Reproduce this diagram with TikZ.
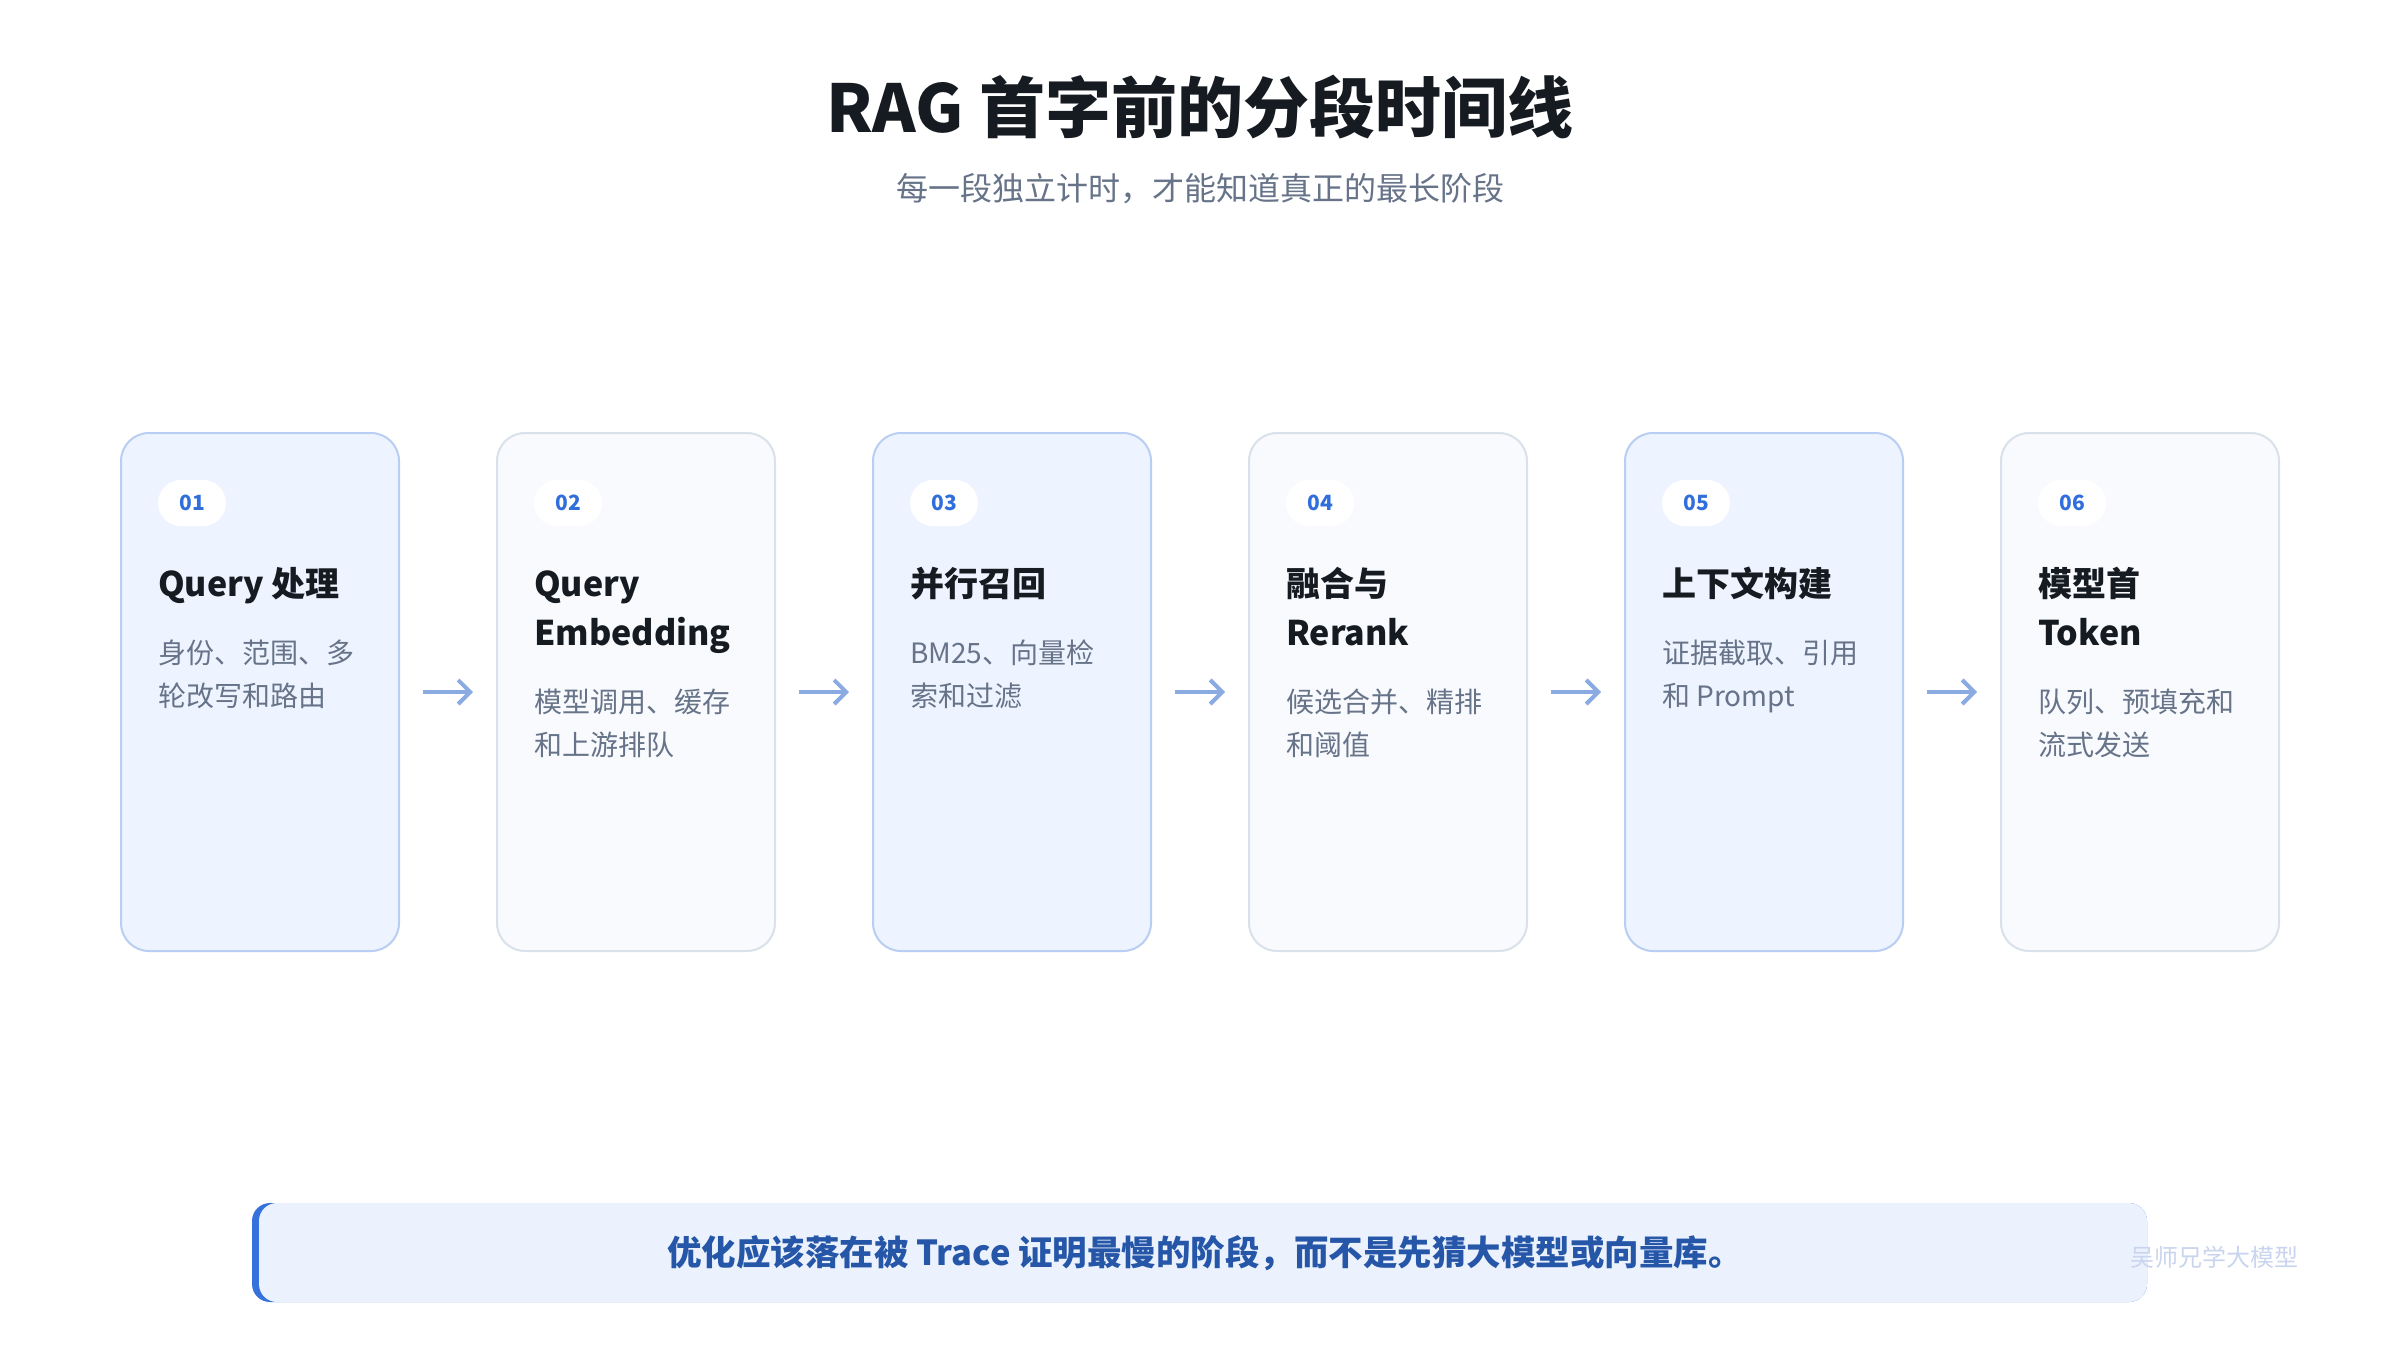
\documentclass[tikz,border=0pt]{standalone}
\usepackage{fontspec}
\setmainfont{Noto Sans CJK SC}
\usetikzlibrary{arrows.meta,calc}
\pgfdeclarelayer{bg}
\pgfsetlayers{bg,main}
\definecolor{ink}{HTML}{161B22}
\definecolor{muted}{HTML}{667388}
\definecolor{cardAfill}{HTML}{EEF4FF}
\definecolor{cardAline}{HTML}{B8CFF3}
\definecolor{cardBfill}{HTML}{F8FAFD}
\definecolor{cardBline}{HTML}{DAE1EA}
\definecolor{badgeblue}{HTML}{2F6EDB}
\definecolor{arrowblue}{HTML}{8AABE1}
\definecolor{barfill}{HTML}{EBF2FE}
\definecolor{accentblue}{HTML}{3572DC}
\definecolor{msgblue}{HTML}{2556A8}
\definecolor{wmark}{HTML}{C9D5EE}
\tikzset{
  card/.style={draw, line width=2pt, rounded corners=28pt, minimum width=278pt, minimum height=518pt, inner sep=0pt},
  cardA/.style={card, fill=cardAfill, draw=cardAline},
  cardB/.style={card, fill=cardBfill, draw=cardBline},
  badge/.style={fill=white, rounded corners=23pt, minimum width=68pt, minimum height=46pt, inner sep=0pt, text=badgeblue, font=\fontsize{21}{23}\selectfont\bfseries},
  ttl/.style={anchor=base west, inner sep=0pt, text=ink, font=\fontsize{34}{40}\selectfont\bfseries},
  desc/.style={anchor=base west, inner sep=0pt, text=muted, font=\fontsize{28}{32}\selectfont},
  arr/.style={draw=arrowblue, line width=4pt, -{Straight Barb[length=12pt,width=24pt]}, shorten <=23pt, shorten >=23pt},
  shadowring/.style={fill=black, opacity=0.012},
}
\begin{document}
\begin{tikzpicture}[x=1pt,y=-1pt]
\fill[white] (0,0) rectangle (2400,1350);
\node[font=\fontsize{66}{74}\selectfont\bfseries, text=ink, anchor=base, inner sep=0pt] (title) at (1200,132) {RAG 首字前的分段时间线};
\node[font=\fontsize{32}{36}\selectfont, text=muted, anchor=base, inner sep=0pt] (sub) at (1200,200) {每一段独立计时，才能知道真正的最长阶段};

\node[cardA] (c1) at (260,692) {};
\node[cardB] (c2) at (636,692) {};
\node[cardA] (c3) at (1012,692) {};
\node[cardB] (c4) at (1388,692) {};
\node[cardA] (c5) at (1764,692) {};
\node[cardB] (c6) at (2140,692) {};

\begin{pgfonlayer}{bg}
\foreach \c in {c1,c2,c3,c4,c5,c6}{
  \foreach \r in {4,8,12,16,20,24,28}{
    \fill[shadowring, rounded corners=28pt+\r pt] ($(\c.north west)+(-\r,-\r+10)$) rectangle ($(\c.south east)+(\r,\r+10)$);
  }
}
\end{pgfonlayer}

\node[badge] (b1) at (192,503) {01};
\node[badge] (b2) at (568,503) {02};
\node[badge] (b3) at (944,503) {03};
\node[badge] (b4) at (1320,503) {04};
\node[badge] (b5) at (1696,503) {05};
\node[badge] (b6) at (2072,503) {06};

\node[ttl] (t1) at (158,596) {Query 处理};
\node[desc] (d1a) at (158,663) {身份、范围、多};
\node[desc] (d1b) at (158,706) {轮改写和路由};

\node[ttl] (t2a) at (534,596) {Query};
\node[ttl] (t2b) at (534,645) {Embedding};
\node[desc] (d2a) at (534,712) {模型调用、缓存};
\node[desc] (d2b) at (534,755) {和上游排队};

\node[ttl] (t3) at (910,596) {并行召回};
\node[desc] (d3a) at (910,663) {BM25、向量检};
\node[desc] (d3b) at (910,706) {索和过滤};

\node[ttl] (t4a) at (1286,596) {融合与};
\node[ttl] (t4b) at (1286,645) {Rerank};
\node[desc] (d4a) at (1286,712) {候选合并、精排};
\node[desc] (d4b) at (1286,755) {和阈值};

\node[ttl] (t5) at (1662,596) {上下文构建};
\node[desc] (d5a) at (1662,663) {证据截取、引用};
\node[desc] (d5b) at (1662,706) {和 Prompt};

\node[ttl] (t6a) at (2038,596) {模型首};
\node[ttl] (t6b) at (2038,645) {Token};
\node[desc] (d6a) at (2038,712) {队列、预填充和};
\node[desc] (d6b) at (2038,755) {流式发送};

\draw[arr] (c1.east) -- (c2.west);
\draw[arr] (c2.east) -- (c3.west);
\draw[arr] (c3.east) -- (c4.west);
\draw[arr] (c4.east) -- (c5.west);
\draw[arr] (c5.east) -- (c6.west);

\fill[accentblue, rounded corners=18pt] (252,1203) rectangle (2147,1302);
\node[fill=barfill, rounded corners=18pt, minimum width=1888pt, minimum height=99pt, inner sep=0pt] (bar) at (1203,1252.5) {};
\node[font=\fontsize{34.5}{40}\selectfont\bfseries, text=msgblue, anchor=base, inner sep=0pt] (msg) at (1205,1265) {优化应该落在被 Trace 证明最慢的阶段，而不是先猜大模型或向量库。};
\node[font=\fontsize{24}{28}\selectfont, text=wmark, anchor=base, inner sep=0pt] (wm) at (2214,1266) {吴师兄学大模型};
\end{tikzpicture}
\end{document}
